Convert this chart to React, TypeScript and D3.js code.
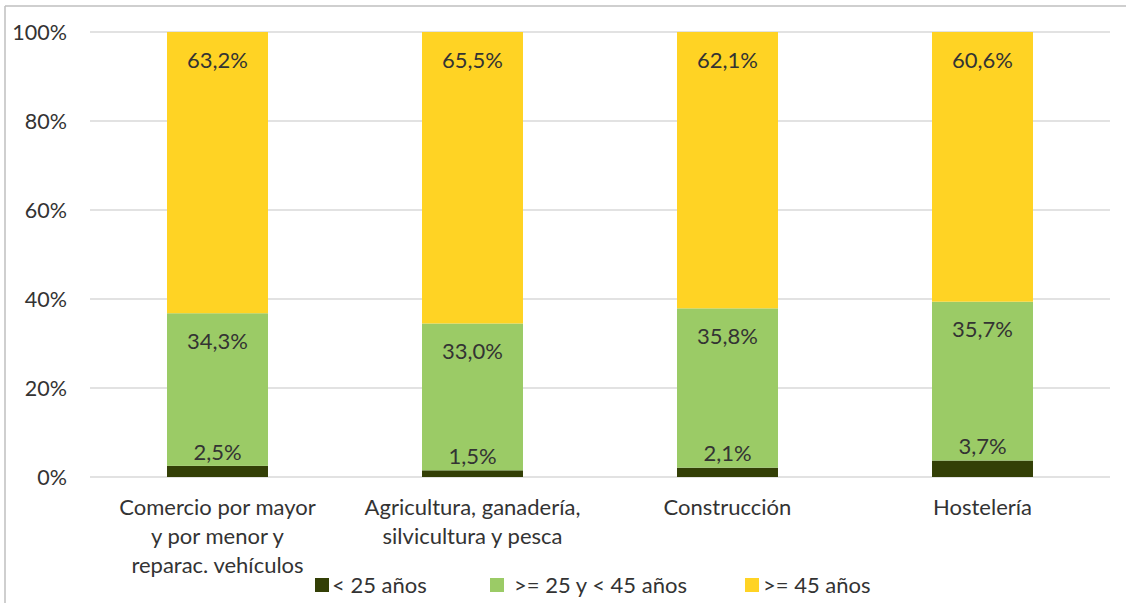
import React from "react";
import { scaleBand, scaleLinear, stack } from "d3";

const categories = [
  ["Comercio por mayor", "y por menor y", "reparac. vehículos"],
  ["Agricultura, ganadería,", "silvicultura y pesca"],
  ["Construcción"],
  ["Hostelería"],
];
const menos25 = [2.5, 1.5, 2.1, 3.7];
const entre25y45 = [34.3, 33.0, 35.8, 35.7];
const mas45 = [63.2, 65.5, 62.1, 60.6];
const seriesNames = ["< 25 años", ">= 25 y < 45 años", ">= 45 años"];
const colors = ["#333F06", "#9BCB66", "#FFD324"];
const yTicks = [0, 20, 40, 60, 80, 100];

const width = 1126;
const height = 603;
const margin = { top: 32, bottom: 126, left: 90, right: 16 };
const font = "Lato, 'Open Sans', sans-serif";
const textColor = "#333333";
const fs = 22;

function App() {
  const keys = ["a", "b", "c"];
  const rows = categories.map((c, i) => ({
    idx: i,
    a: menos25[i],
    b: entre25y45[i],
    c: mas45[i],
  }));
  const series = stack<any>().keys(keys)(rows);

  const x = scaleBand<number>()
    .domain(rows.map((r) => r.idx))
    .range([margin.left, width - margin.right])
    .paddingInner(0.604)
    .paddingOuter(0.302);
  const y = scaleLinear()
    .domain([0, 100])
    .range([height - margin.bottom, margin.top]);

  // legend swatch left edges and text offsets
  const legendX = [315, 490, 745];
  const legendGap = [17, 24, 18];

  return (
    <svg
      width={width}
      height={height}
      style={{ position: "absolute", left: 0, top: 0, background: "#fff" }}
    >
      {/* chart frame, only top and left edges visible */}
      <line x1={5} x2={width} y1={6} y2={6} stroke="#bfbfbf" strokeWidth={1.5} />
      <line x1={5} x2={5} y1={6} y2={height} stroke="#bfbfbf" strokeWidth={1.5} />

      {yTicks.map((t) => (
        <g key={t}>
          <line
            x1={margin.left}
            x2={width - margin.right}
            y1={y(t)}
            y2={y(t)}
            stroke="#d9d9d9"
            strokeWidth={1.5}
          />
          <text
            x={67}
            y={y(t)}
            dy="0.35em"
            textAnchor="end"
            fontFamily={font}
            fontSize={21.5}
            fill={textColor}
          >
            {t}%
          </text>
        </g>
      ))}

      {series.map((s, si) => (
        <g key={si}>
          {s.map((d: any, i: number) => (
            <rect
              key={i}
              x={x(i)}
              y={y(d[1])}
              width={x.bandwidth()}
              height={y(d[0]) - y(d[1])}
              fill={colors[si]}
            />
          ))}
        </g>
      ))}

      {series.map((s, si) => (
        <g key={"l" + si}>
          {s.map((d: any, i: number) => {
            const top = y(d[1]);
            const h = y(d[0]) - y(d[1]);
            const cx = (x(i) as number) + x.bandwidth() / 2;
            const labelY = h < 40 ? top - 14 : top + 28;
            return (
              <text
                key={i}
                x={cx}
                y={labelY}
                dy="0.35em"
                textAnchor="middle"
                fontFamily={font}
                fontSize={fs}
                fill={textColor}
              >
                {(d[1] - d[0]).toFixed(1).replace(".", ",")}%
              </text>
            );
          })}
        </g>
      ))}

      {categories.map((lines, i) => (
        <text
          key={i}
          x={(x(i) as number) + x.bandwidth() / 2}
          y={507}
          textAnchor="middle"
          fontFamily={font}
          fontSize={fs}
          fill={textColor}
        >
          {lines.map((l, li) => (
            <tspan key={li} x={(x(i) as number) + x.bandwidth() / 2} dy={li === 0 ? "0.35em" : 29}>
              {l}
            </tspan>
          ))}
        </text>
      ))}

      {seriesNames.map((n, i) => (
        <g key={n} transform={`translate(${legendX[i]}, 585)`}>
          <rect x={0} y={-7} width={14} height={14} fill={colors[i]} />
          <text
            x={legendGap[i]}
            y={0}
            dy="0.35em"
            fontFamily={font}
            fontSize={fs}
            fill={textColor}
          >
            {n}
          </text>
        </g>
      ))}
    </svg>
  );
}

export default App;
